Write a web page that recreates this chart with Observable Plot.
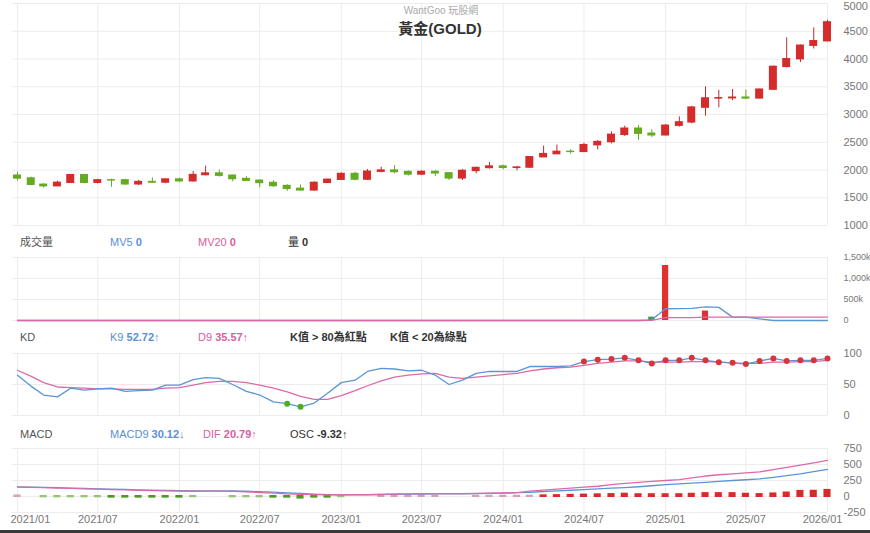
<!DOCTYPE html>
<html><head><meta charset="utf-8">
<script src="https://cdn.jsdelivr.net/npm/d3@7"></script>
<script src="https://cdn.jsdelivr.net/npm/@observablehq/plot@0.6"></script>
<style>
body{margin:0;background:#fff;}
#wrap{position:relative;width:870px;height:533px;overflow:hidden;background:#fff;font-family:"Liberation Sans","Noto Sans CJK TC",Arial,sans-serif;}
.panel{position:absolute;left:0;}
.hdr{position:absolute;font-size:11px;line-height:14px;white-space:nowrap;color:#555;}
.hdr b{font-weight:bold;}
.blue{color:#5a8fd6;} .pink{color:#d9609f;} .dark{color:#333;}
#sub{position:absolute;top:2px;left:0;width:882px;text-align:center;font-size:10px;color:#aaa;}
#title{position:absolute;top:17px;left:0;width:880px;text-align:center;font-size:15px;font-weight:bold;color:#333;}
#bottomline{position:absolute;left:0;top:530px;width:870px;height:3px;background:#3a3a3a;}
</style></head>
<body><div id="wrap">
<div id="p1" class="panel" style="top:0"></div>
<div id="p2" class="panel" style="top:250px"></div>
<div id="p3" class="panel" style="top:345px"></div>
<div id="p4" class="panel" style="top:440px"></div>
<div id="sub">WantGoo 玩股網</div>
<div id="title">黃金(GOLD)</div>
<div class="hdr" style="top:235px;left:20px">成交量</div>
<div class="hdr blue" style="top:235px;left:110px">MV5 <b>0</b></div>
<div class="hdr pink" style="top:235px;left:198px">MV20 <b>0</b></div>
<div class="hdr dark" style="top:235px;left:288px">量 <b>0</b></div>
<div class="hdr" style="top:330px;left:20px">KD</div>
<div class="hdr blue" style="top:330px;left:110px">K9 <b>52.72</b>↑</div>
<div class="hdr pink" style="top:330px;left:198px">D9 <b>35.57</b>↑</div>
<div class="hdr dark" style="top:330px;left:290px"><b>K值 &gt; 80為紅點</b></div>
<div class="hdr dark" style="top:330px;left:390px"><b>K值 &lt; 20為綠點</b></div>
<div class="hdr" style="top:427px;left:20px">MACD</div>
<div class="hdr blue" style="top:427px;left:110px">MACD9 <b>30.12</b>↓</div>
<div class="hdr pink" style="top:427px;left:203px">DIF <b>20.79</b>↑</div>
<div class="hdr dark" style="top:427px;left:290px">OSC <b>-9.32</b>↑</div>
<div id="bottomline"></div>
</div>
<script>
// ---------- data ----------
const tickLabels = ["2021/01","2021/07","2022/01","2022/07","2023/01","2023/07","2024/01","2024/07","2025/01","2025/07","2026/01"];
const priceTicks = [1000,1500,2000,2500,3000,3500,4000,4500,5000];
const volTicks = [0,500000,1000000,1500000];
const kdTicks = [0,50,100];
const macdTicks = [-250,0,250,500,750];

const open  = [1898,1847,1734,1708,1769,1907,1770,1814,1813,1742,1783,1774,1829,1797,1909,1937,1897,1837,1807,1766,1711,1661,1633,1768,1824,1928,1827,1969,1990,1963,1919,1965,1940,1849,1983,2036,2063,2039,2044,2230,2286,2327,2326,2447,2503,2634,2744,2654,2625,2798,2858,3124,3289,3293,3303,3290,3448,3858,3996,4239,4320];
const high  = [1959,1871,1755,1798,1913,1917,1832,1834,1834,1813,1860,1831,1853,1974,2070,1998,1910,1879,1815,1808,1735,1730,1786,1833,1949,1960,2009,2048,2079,1983,1987,1987,1947,2009,2052,2135,2088,2065,2236,2431,2450,2368,2483,2531,2686,2790,2801,2726,2817,2956,3148,3500,3435,3452,3440,3455,3870,4381,4255,4560,4700];
const low   = [1802,1717,1677,1705,1765,1750,1751,1688,1721,1720,1758,1753,1780,1782,1895,1872,1787,1805,1681,1688,1615,1617,1616,1765,1823,1804,1810,1950,1932,1893,1903,1885,1810,1810,1931,2016,2002,1984,2024,2229,2277,2286,2318,2364,2472,2604,2536,2584,2615,2772,2833,2970,3120,3247,3268,3281,3436,3840,3935,4180,4310];
const close = [1847,1734,1708,1769,1907,1770,1814,1813,1742,1783,1774,1829,1797,1909,1937,1897,1837,1807,1766,1711,1661,1633,1768,1824,1928,1827,1969,1990,1963,1919,1965,1940,1849,1983,2036,2063,2039,2044,2230,2286,2327,2326,2447,2503,2634,2744,2654,2625,2798,2858,3124,3289,3293,3303,3290,3448,3858,3996,4239,4320,4660];

const volume = [0,0,0,0,0,0,0,0,0,0,0,0,0,0,0,0,0,0,0,0,0,0,0,0,0,0,0,0,0,0,0,0,0,0,0,0,0,0,0,0,0,0,0,0,0,0,0,80000,1310000,0,0,225000,0,0,0,0,0,0,0,0,0];
const mv5 = [0,0,0,0,0,0,0,0,0,0,0,0,0,0,0,0,0,0,0,0,0,0,0,0,0,0,0,0,0,0,0,0,0,0,0,0,0,0,0,0,0,0,0,0,0,0,0,16000,280000,282000,290000,325000,312000,80000,78000,40000,0,0,0,0,0];
const mv20 = [0,0,0,0,0,0,0,0,0,0,0,0,0,0,0,0,0,0,0,0,0,0,0,0,0,0,0,0,0,0,0,0,0,0,0,0,0,0,0,0,0,0,0,0,0,0,0,4000,70000,70000,70000,81000,81000,81000,81000,81000,81000,81000,81000,81000,81000];

const K9 = [65,47,33,30,44,41,43,44,39,40,41,49,49,58,61,60,50,39,33,22,19,14,20,36,53,57,71,76,75,72,73,65,50,57,68,71,71,71,79,79,79,80,87,90,91,93,89,84,89,89,93,89,86,85,83,88,92,88,89,89,92];
const D9 = [73,63,53,46,45,44,43,43,42,42,42,44,45,49,53,55,55,53,49,44,38,31,26,26,32,40,48,56,62,65,67,68,62,60,62,64,66,68,72,75,77,78,81,84,86,88,88,86,86,86,87,87,86,85,84,84,86,86,87,87,89];

const DIF   = [148,144,138,132,126,120,114,108,102,97,92,88,84,82,84,85,80,72,62,52,42,34,28,24,26,28,30,34,38,40,42,44,44,46,48,52,56,62,85,100,115,130,145,160,185,205,220,235,250,265,290,320,340,355,370,385,420,455,490,525,563];
const MACD9 = [150,147,143,138,132,126,120,115,110,105,100,96,92,89,88,88,86,82,76,68,58,48,38,30,24,24,27,31,35,37,39,41,41,43,45,49,53,59,65,78,88,98,108,120,130,140,152,168,185,198,208,220,235,250,262,275,300,325,355,390,425];
const OSC = [8,null,-5,-5,-5,-5,-5,-10,-10,-10,-10,-10,-10,-4,null,null,-5,-5,-5,-10,-10,-25,-10,-10,-3,null,null,4,4,4,4,4,null,null,4,4,4,4,4,10,14,18,22,26,30,36,28,28,28,28,35,45,45,45,35,30,40,55,80,82,95];

// ---------- build ----------
const parse = d3.utcParse("%Y/%m");
const tickDates = tickLabels.map(parse);
const months = d3.utcMonths(tickDates[0], d3.utcMonth.offset(tickDates[tickDates.length-1], 1));
const rows = months.map((date, i) => ({
  date, open: open[i], high: high[i], low: low[i], close: close[i],
  vol: volume[i], mv5: mv5[i], mv20: mv20[i], k: K9[i], d: D9[i],
  dif: DIF[i], macd: MACD9[i], osc: OSC[i]
}));

const RED = "#d62b2b", RED_WICK = "#b63030", GREEN = "#65aa22";
const BLUE = "#5b95d6", PINK = "#dc6aa6", GRID = "#ececec";
const off = (d, n) => d3.utcDay.offset(d, n);
const xScale = {type: "utc", domain: [tickDates[0], tickDates[tickDates.length-1]], range: [17, 827], axis: null};
const common = {width: 870, marginLeft: 12, marginRight: 43,
  style: {fontFamily: '"Liberation Sans", Arial, sans-serif', fontSize: "11px", color: "#777", background: "transparent", overflow: "visible"}};
const yAxis = (ticks, fmt) => Plot.axisY({ticks, anchor: "right", tickSize: 0, tickPadding: 16, tickFormat: fmt, textAnchor: "start"});
const up = d => d.close >= d.open;

// price panel
const topTick = priceTicks[priceTicks.length - 1];
const price = Plot.plot({...common, height: 232, marginTop: 3, marginBottom: 7,
  x: xScale, y: {domain: [1000, 5000], axis: null},
  marks: [
    Plot.ruleX(tickDates, {stroke: GRID}),
    Plot.ruleY(priceTicks, {stroke: GRID}),
    Plot.text(priceTicks.filter(d => d !== topTick), {y: d => d, text: d => String(d), frameAnchor: "right", dx: 16, textAnchor: "start", fill: "#777"}),
    Plot.text([topTick], {y: d => d, text: d => String(d), frameAnchor: "right", dx: 16, dy: 3, textAnchor: "start", fill: "#777"}),
    Plot.ruleX(rows, {x: "date", y1: "low", y2: "high", stroke: d => up(d) ? RED_WICK : GREEN, strokeWidth: 1}),
    Plot.rect(rows, {x1: d => off(d.date, -9), x2: d => off(d.date, 9),
      y1: d => Math.min(d.open, d.close), y2: d => Math.max(d.open, d.close),
      fill: d => up(d) ? RED : GREEN, insetTop: -0.7, insetBottom: -0.7})
  ]});
document.getElementById("p1").appendChild(price);

// volume panel
const volFmt = d => d === 0 ? "0" : d3.format(",")(d / 1000) + "k";
const vol = Plot.plot({...common, height: 75, marginTop: 7, marginBottom: 5,
  x: xScale, y: {domain: [0, 1500000], axis: null},
  marks: [
    Plot.ruleX(tickDates, {stroke: GRID}),
    Plot.ruleY(volTicks, {stroke: GRID}),
    Plot.text(volTicks, {y: d => d, text: volFmt, frameAnchor: "right", dx: 16, textAnchor: "start", fontSize: 9, fill: "#777"}),
    Plot.rect(rows.filter(d => d.vol > 0), {x1: d => off(d.date, -7), x2: d => off(d.date, 7), y1: 0, y2: "vol",
      fill: d => up(d) ? "#e03131" : "#3d9a3d"}),
    Plot.line(rows, {x: "date", y: "mv5", stroke: BLUE, strokeWidth: 1.3}),
    Plot.line(rows, {x: "date", y: "mv20", stroke: PINK, strokeWidth: 1.3})
  ]});
document.getElementById("p2").appendChild(vol);

// KD panel
const kd = Plot.plot({...common, height: 75, marginTop: 8, marginBottom: 5,
  x: xScale, y: {domain: [0, 100]},
  marks: [
    Plot.ruleX(tickDates, {stroke: GRID}),
    Plot.ruleY(kdTicks, {stroke: GRID}),
    yAxis(kdTicks, d => String(d)),
    Plot.line(rows, {x: "date", y: "d", stroke: PINK, strokeWidth: 1.3}),
    Plot.line(rows, {x: "date", y: "k", stroke: BLUE, strokeWidth: 1.3}),
    Plot.dot(rows.filter(d => d.k > 80), {x: "date", y: "k", r: 3, fill: "#d9343a"}),
    Plot.dot(rows.filter(d => d.k < 20), {x: "date", y: "k", r: 3, fill: "#4caf1f"})
  ]});
document.getElementById("p3").appendChild(kd);

// MACD panel
const oscColor = d => d.osc >= 0 ? (d.osc < 10 ? "#d7a3ab" : "#d62b2b") : (d.osc > -8 ? "#93c66f" : "#4d9a22");
const macd = Plot.plot({...common, height: 93, marginTop: 8, marginBottom: 21,
  x: xScale, y: {domain: [-250, 750]},
  marks: [
    Plot.ruleX(tickDates, {stroke: GRID}),
    Plot.ruleY(macdTicks, {stroke: GRID}),
    yAxis(macdTicks, d => String(d)),
    Plot.rect(rows.filter(d => d.osc != null), {x1: d => off(d.date, -8), x2: d => off(d.date, 8), y1: 0, y2: "osc",
      fill: oscColor, insetTop: -1, insetBottom: -1}),
    Plot.line(rows, {x: "date", y: "macd", stroke: BLUE, strokeWidth: 1.3}),
    Plot.line(rows, {x: "date", y: "dif", stroke: PINK, strokeWidth: 1.3}),
    Plot.text(tickLabels.slice(1, -1), {x: d => parse(d), text: d => d, frameAnchor: "bottom", dy: 10, fill: "#777"}),
    Plot.text(tickLabels.slice(0, 1), {x: d => parse(d), text: d => d, frameAnchor: "bottom", dy: 10, dx: -7, textAnchor: "start", fill: "#777"}),
    Plot.text(tickLabels.slice(-1), {x: d => parse(d), text: d => d, frameAnchor: "bottom", dy: 10, dx: -5, fill: "#777"})
  ]});
document.getElementById("p4").appendChild(macd);
</script>
</body></html>
